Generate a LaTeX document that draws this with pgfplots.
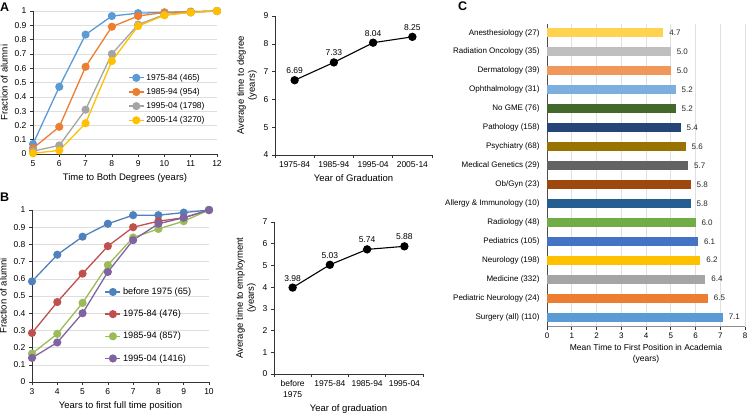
\documentclass[border=0pt]{standalone}
\usepackage{pgfplots}
\pgfplotsset{compat=1.18}
\usepackage{fontspec}
\setmainfont{Liberation Sans}
\definecolor{aBlue}{HTML}{5B9BD5}
\definecolor{aOrange}{HTML}{ED7D31}
\definecolor{aGray}{HTML}{A5A5A5}
\definecolor{aGold}{HTML}{FFC000}
\definecolor{bBlue}{HTML}{4F81BD}
\definecolor{bRed}{HTML}{C0504D}
\definecolor{bGreen}{HTML}{9BBB59}
\definecolor{bPurple}{HTML}{8064A2}
\definecolor{c1}{HTML}{FFD24F}
\definecolor{c2}{HTML}{BFBFBF}
\definecolor{c3}{HTML}{F1975A}
\definecolor{c4}{HTML}{7CAFDD}
\definecolor{c5}{HTML}{43682B}
\definecolor{c6}{HTML}{264478}
\definecolor{c7}{HTML}{997300}
\definecolor{c8}{HTML}{636363}
\definecolor{c9}{HTML}{9E480E}
\definecolor{c10}{HTML}{255E91}
\definecolor{c11}{HTML}{70AD47}
\definecolor{c12}{HTML}{4472C4}
\definecolor{c13}{HTML}{FFC000}
\definecolor{c14}{HTML}{A5A5A5}
\definecolor{c15}{HTML}{ED7D31}
\definecolor{c16}{HTML}{5B9BD5}
\pgfplotsset{
  base/.style={scale only axis, clip=false,
    axis x line*=bottom, axis y line*=left,
    axis line style={-,black!80,line width=0.6pt},
    tick style={black!80,line width=0.6pt},
    tick align=outside, major tick length=3pt,
    /pgf/number format/assume math mode=true,
    tick label style={font=\fontsize{8.5}{10}\selectfont},
    label style={font=\fontsize{9.5}{11}\selectfont}},
  curve/.style={base, ymajorgrids, major grid style={line width=0.6pt,color=black!13},
    legend style={draw=none, fill=none, anchor=north west, font=\fontsize{8.5}{10}\selectfont, inner sep=0pt},
    legend cell align=left,
    legend image code/.code={\draw[mark repeat=2,mark phase=2] plot coordinates {(0pt,0pt) (7.5pt,0pt) (15pt,0pt)};},
    every axis plot/.append style={line width=1.3pt, mark=*, mark size=3.4pt, mark options={solid}}},
  avg/.style={base, xmin=-0.5, xmax=3.5, xtick={0,1,2,3}, major x tick style={draw=none},
    minor xtick={-0.5,0.5,1.5,2.5,3.5}, minor x tick style={black!80}, minor tick length=3pt,
    ylabel style={align=center},
    nodes near coords, point meta=explicit symbolic,
    nodes near coords style={font=\fontsize{8.5}{10}\selectfont, anchor=south, yshift=2.5pt, text=black}},
}
\begin{document}
\begin{tikzpicture}
\useasboundingbox (0,0) rectangle (747pt,-416pt);

% ---------- A left
\begin{axis}[curve, at={(33pt,-154pt)}, anchor=south west, width=184pt, height=143pt,
  xmin=5, xmax=12, ymin=0, ymax=1, xtick={5,6,7,8,9,10,11,12},
  ytick={0,0.1,0.2,0.3,0.4,0.5,0.6,0.7,0.8,0.9,1},
  xlabel={Time to Both Degrees (years)}, ylabel={Fraction of alumni},
  legend style={at={(0.516,0.575)}, row sep=2.5pt}]
\addplot[aBlue, mark options={fill=aBlue}] coordinates {(5,0.07) (6,0.47) (7,0.835) (8,0.965) (9,0.985) (10,0.99) (11,0.995) (12,1.0)};
\addplot[aOrange, mark options={fill=aOrange}] coordinates {(5,0.04) (6,0.19) (7,0.61) (8,0.89) (9,0.965) (10,0.99) (11,0.995) (12,1.0)};
\addplot[aGray, mark options={fill=aGray}] coordinates {(5,0.02) (6,0.06) (7,0.31) (8,0.70) (9,0.905) (10,0.975) (11,0.99) (12,1.0)};
\addplot[aGold, mark options={fill=aGold}] coordinates {(5,0.005) (6,0.025) (7,0.215) (8,0.65) (9,0.895) (10,0.97) (11,0.99) (12,1.0)};
\legend{1975-84 (465),1985-94 (954),1995-04 (1798),2005-14 (3270)}
\end{axis}

% ---------- B left
\begin{axis}[curve, at={(32pt,-382pt)}, anchor=south west, width=177pt, height=172pt,
  xmin=3, xmax=10, ymin=0, ymax=1, xtick={3,4,5,6,7,8,9,10},
  ytick={0,0.1,0.2,0.3,0.4,0.5,0.6,0.7,0.8,0.9,1},
  xlabel={Years to first full time position}, ylabel={Fraction of alumni},
  legend style={at={(0.41,0.56)}, row sep=10pt, font=\fontsize{9.2}{10}\selectfont}]
\addplot[bBlue, mark options={fill=bBlue}] coordinates {(3,0.585) (4,0.74) (5,0.845) (6,0.92) (7,0.97) (8,0.97) (9,0.985) (10,1.0)};
\addplot[bRed, mark options={fill=bRed}] coordinates {(3,0.285) (4,0.465) (5,0.63) (6,0.79) (7,0.90) (8,0.935) (9,0.955) (10,1.0)};
\addplot[bGreen, mark options={fill=bGreen}] coordinates {(3,0.165) (4,0.28) (5,0.46) (6,0.68) (7,0.84) (8,0.89) (9,0.935) (10,1.0)};
\addplot[bPurple, mark options={fill=bPurple}] coordinates {(3,0.14) (4,0.23) (5,0.40) (6,0.64) (7,0.825) (8,0.92) (9,0.955) (10,1.0)};
\legend{before 1975 (65),1975-84 (476),1985-94 (857),1995-04 (1416)}
\end{axis}

% ---------- A right
\begin{axis}[avg, at={(275pt,-155pt)}, anchor=south west, width=157pt, height=139pt,
  ymin=4, ymax=9, ytick={4,5,6,7,8,9},
  xticklabels={1975-84,1985-94,1995-04,2005-14},
  xlabel={Year of Graduation}, ylabel={Average time to degree\\(years)}]
\addplot[black, line width=1.1pt, mark=*, mark size=3.6pt, mark options={fill=black}] coordinates {(0,6.69) [6.69] (1,7.33) [7.33] (2,8.04) [8.04] (3,8.25) [8.25]};
\end{axis}

% ---------- B right
\begin{axis}[avg, at={(274pt,-374pt)}, anchor=south west, width=149pt, height=152pt,
  ymin=0, ymax=7, ytick={0,1,2,3,4,5,6,7},
  xticklabels={{before\\1975},1975-84,1985-94,1995-04},
  xticklabel style={align=center, font=\fontsize{8.5}{11}\selectfont},
  xlabel={Year of graduation}, ylabel={Average time to employment\\(years)}]
\addplot[black, line width=1.1pt, mark=*, mark size=3.6pt, mark options={fill=black}] coordinates {(0,3.98) [3.98] (1,5.03) [5.03] (2,5.74) [5.74] (3,5.88) [5.88]};
\end{axis}

% ---------- C
\begin{axis}[base, at={(547pt,-326.5pt)}, anchor=south west, width=198pt, height=303pt,
  xbar, bar width=9pt, bar shift=0pt,
  xmin=0, xmax=8, ymin=-0.5, ymax=15.5, y dir=reverse,
  xtick={0,1,2,3,4,5,6,7,8}, ytick={0,1,2,3,4,5,6,7,8,9,10,11,12,13,14,15},
  yticklabels={Anesthesiology (27),Radiation Oncology (35),Dermatology (39),Ophthalmology (31),No GME (76),Pathology (158),Psychiatry (68),Medical Genetics (29),Ob/Gyn (23),Allergy \& Immunology (10),Radiology (48),Pediatrics (105),Neurology (198),Medicine (332),Pediatric Neurology (24),Surgery (all) (110)},
  tick label style={font=\fontsize{8}{10}\selectfont},
  major y tick style={draw=none}, yticklabel style={xshift=-1pt},
  axis y line*=left, y axis line style={black!70, line width=1pt},
  x axis line style={black!45}, xmajorgrids, major grid style={line width=0.6pt,color=black!12},
  xlabel={Mean Time to First Position in Academia\\(years)},
  xlabel style={align=center, font=\fontsize{8.5}{11}\selectfont, yshift=1pt},
  nodes near coords={\pgfmathprintnumber[fixed,fixed zerofill,precision=1]{\pgfplotspointmeta}},
  point meta=x,
  nodes near coords style={font=\fontsize{8}{10}\selectfont, anchor=west, xshift=2.5pt, text=black!85}]
\addplot[fill=c1, draw=none] coordinates {(4.7,0)};
\addplot[fill=c2, draw=none] coordinates {(5.0,1)};
\addplot[fill=c3, draw=none] coordinates {(5.0,2)};
\addplot[fill=c4, draw=none] coordinates {(5.2,3)};
\addplot[fill=c5, draw=none] coordinates {(5.2,4)};
\addplot[fill=c6, draw=none] coordinates {(5.4,5)};
\addplot[fill=c7, draw=none] coordinates {(5.6,6)};
\addplot[fill=c8, draw=none] coordinates {(5.7,7)};
\addplot[fill=c9, draw=none] coordinates {(5.8,8)};
\addplot[fill=c10, draw=none] coordinates {(5.8,9)};
\addplot[fill=c11, draw=none] coordinates {(6.0,10)};
\addplot[fill=c12, draw=none] coordinates {(6.1,11)};
\addplot[fill=c13, draw=none] coordinates {(6.2,12)};
\addplot[fill=c14, draw=none] coordinates {(6.4,13)};
\addplot[fill=c15, draw=none] coordinates {(6.5,14)};
\addplot[fill=c16, draw=none] coordinates {(7.1,15)};
\end{axis}

% panel letters
\node[anchor=base west, inner sep=0pt, font=\bfseries\fontsize{12.5}{13}\selectfont] at (0pt,-11pt) {A};
\node[anchor=base west, inner sep=0pt, font=\bfseries\fontsize{12.5}{13}\selectfont] at (0pt,-201pt) {B};
\node[anchor=base west, inner sep=0pt, font=\bfseries\fontsize{12.5}{13}\selectfont] at (458pt,-10pt) {C};
\end{tikzpicture}
\end{document}
